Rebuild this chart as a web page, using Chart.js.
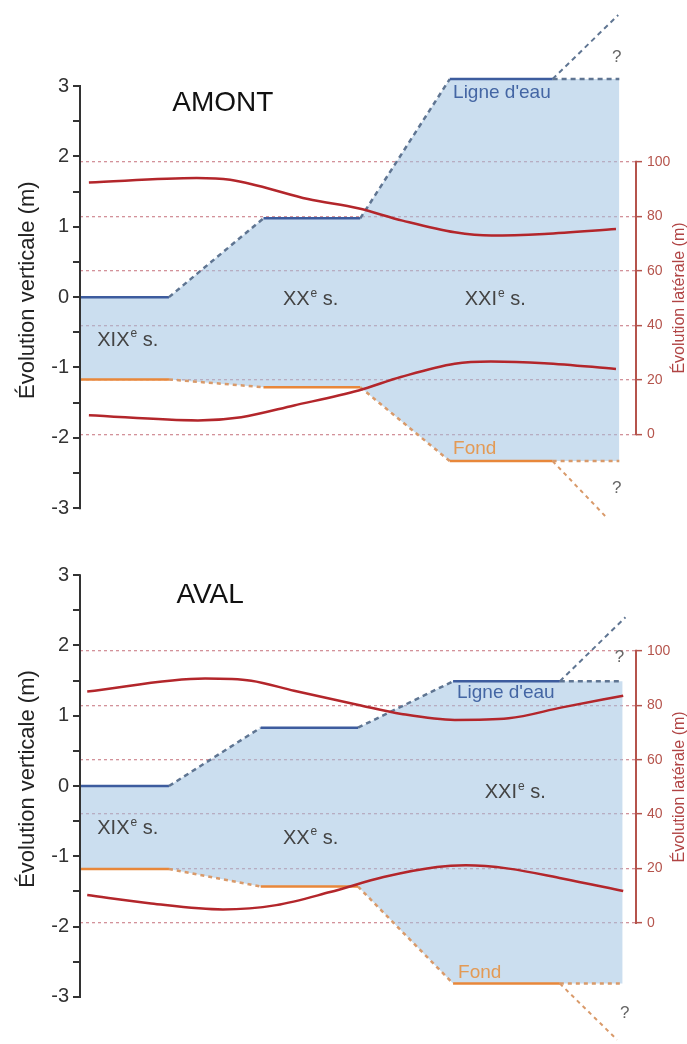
<!DOCTYPE html>
<html lang="fr">
<head>
<meta charset="utf-8">
<script src="https://cdn.jsdelivr.net/npm/chart.js@4.4.1/dist/chart.umd.min.js"></script>
<style>
  html, body { margin: 0; padding: 0; background: #fff; overflow: hidden; }
  body { position: relative; width: 687px; height: 1044px; }
  canvas { position: absolute; left: 0; }
  #amont { top: -12px; }
  #aval { top: 520px; }
</style>
</head>
<body>
<canvas id="amont" width="687" height="562"></canvas>
<canvas id="aval" width="687" height="544"></canvas>
<script>
// ticks
var leftTicks = [-3, -2.5, -2, -1.5, -1, -0.5, 0, 0.5, 1, 1.5, 2, 2.5, 3];
var rightTicks = [0, 20, 40, 60, 80, 100];

// AMONT - profil en long (x = position, schematique)
var amontX = [0, 16, 33, 50.4, 66.5, 85, 97];
var amontEau = [0, 0, 1.12, 1.12, 3.1, 3.1, 3.1];
var amontFond = [-1.17, -1.17, -1.28, -1.28, -2.33, -2.33, -2.33];
var amontEauSuiteX = [85, 96.8];
var amontEauSuiteY = [3.1, 4.01];
var amontFondSuiteX = [85, 94.8];
var amontFondSuiteY = [-2.33, -3.14];
// AMONT - evolution laterale (m)
var amontRiveHautX = [1.6, 21, 27, 32, 41, 50, 58, 67.4, 74, 83.5, 96.4];
var amontRiveHautY = [92.4, 94, 93.4, 91.2, 86.3, 82.9, 78.4, 74.1, 72.9, 73.5, 75.3];
var amontRiveBasX = [1.6, 21.2, 29, 38.5, 50.1, 57.7, 67.4, 73.9, 83.5, 96.4];
var amontRiveBasY = [7, 5.1, 6.3, 10.6, 16.1, 21, 25.9, 26.7, 26.1, 24];

// AVAL
var avalX = [0, 16, 32.5, 50, 67.1, 86.3, 97.6];
var avalEau = [0, 0, 0.83, 0.83, 1.49, 1.49, 1.49];
var avalFond = [-1.18, -1.18, -1.43, -1.43, -2.81, -2.81, -2.81];
var avalEauSuiteX = [86.3, 98.1];
var avalEauSuiteY = [1.49, 2.4];
var avalFondSuiteX = [86.3, 96.6];
var avalFondSuiteY = [-2.81, -3.61];
var avalRiveHautX = [1.3, 22.5, 30.8, 38.5, 50.1, 57.8, 67.4, 77.1, 86.7, 97.7];
var avalRiveHautY = [85, 89.8, 89, 85.3, 80.1, 76.8, 74.6, 75.2, 79.2, 83.5];
var avalRiveBasX = [1.3, 12.8, 25.7, 35.3, 45, 54.6, 64.2, 69.4, 77.1, 86.7, 97.7];
var avalRiveBasY = [10.3, 7.2, 5, 6.6, 11.4, 16.9, 20.6, 21.2, 20, 16.4, 11.8];

var FONT = '"Liberation Sans", Arial, sans-serif';
var BLUE = '#3d5c9e', BLUE_DASH = '#5f7592';
var ORANGE = '#e8873a', ORANGE_DASH = '#d99a6a';
var RED = '#b3262b', RED_AXIS = '#b5544c';
var FILL = 'rgba(160,194,226,0.55)';

function pts(xs, ys) {
  return xs.map(function (x, i) { return { x: x, y: ys[i] }; });
}

var decor = {
  id: 'decor',
  afterDraw: function (chart, args, o) {
    var ctx = chart.ctx, a = chart.chartArea;
    var sx = chart.scales.x, sy = chart.scales.y, sy2 = chart.scales.y2;
    ctx.save();
    // axe gauche
    ctx.strokeStyle = '#333';
    ctx.lineWidth = 2;
    ctx.beginPath();
    ctx.moveTo(a.left, sy.getPixelForValue(3) - 1);
    ctx.lineTo(a.left, sy.getPixelForValue(-3) + 1);
    ctx.stroke();
    // axe droit
    ctx.strokeStyle = RED_AXIS;
    ctx.beginPath();
    ctx.moveTo(a.right, sy2.getPixelForValue(100) - 1);
    ctx.lineTo(a.right, sy2.getPixelForValue(0) + 1);
    ctx.stroke();

    // titres d'axes
    ctx.textAlign = 'center';
    ctx.textBaseline = 'middle';
    ctx.fillStyle = '#222';
    ctx.font = '22px ' + FONT;
    ctx.save();
    ctx.translate(28, sy.getPixelForValue(0) - 7);
    ctx.rotate(-Math.PI / 2);
    ctx.fillText('Évolution verticale (m)', 0, 0);
    ctx.restore();
    ctx.fillStyle = '#b04444';
    ctx.font = '16px ' + FONT;
    ctx.save();
    ctx.translate(680, sy2.getPixelForValue(50));
    ctx.rotate(-Math.PI / 2);
    ctx.fillText('Évolution latérale (m)', 0, 0);
    ctx.restore();

    // textes
    o.labels.forEach(function (l) {
      var px = sx.getPixelForValue(l.x), py = sy.getPixelForValue(l.y);
      ctx.fillStyle = l.color;
      ctx.textBaseline = 'middle';
      ctx.textAlign = l.align || 'left';
      ctx.font = l.size + 'px ' + FONT;
      if (l.sup) {
        ctx.textAlign = 'left';
        ctx.fillText(l.text, px, py);
        var w = ctx.measureText(l.text).width;
        ctx.font = Math.round(l.size * 0.6) + 'px ' + FONT;
        ctx.fillText(l.sup, px + w + 1, py - l.size * 0.3);
        var w2 = ctx.measureText(l.sup).width;
        ctx.font = l.size + 'px ' + FONT;
        ctx.fillText(l.tail, px + w + w2 + 1, py);
      } else {
        ctx.fillText(l.text, px, py);
      }
    });
    ctx.restore();
  }
};

function dashed(ctx) { return ctx.p0DataIndex % 2 === 1; }

function makeChart(id, d) {
  var lo = -1.95, hi = 1.925;
  var y2min = (d.ymin - lo) / (hi - lo) * 100;
  var y2max = (d.ymax - lo) / (hi - lo) * 100;
  return new Chart(document.getElementById(id).getContext('2d'), {
    type: 'line',
    data: {
      datasets: [
        { data: pts(d.riveHautX, d.riveHautY), yAxisID: 'y2', borderColor: RED, borderWidth: 2.5,
          cubicInterpolationMode: 'monotone', pointRadius: 0, fill: false },
        { data: pts(d.riveBasX, d.riveBasY), yAxisID: 'y2', borderColor: RED, borderWidth: 2.5,
          cubicInterpolationMode: 'monotone', pointRadius: 0, fill: false },
        { data: pts(d.x, d.eau), yAxisID: 'y', borderWidth: 2.5, pointRadius: 0, fill: false,
          segment: {
            borderColor: function (c) { return dashed(c) ? BLUE_DASH : BLUE; },
            borderDash: function (c) { return dashed(c) ? [5, 4] : undefined; }
          } },
        { data: pts(d.x, d.fond), yAxisID: 'y', borderWidth: 2.5, pointRadius: 0, fill: false,
          segment: {
            borderColor: function (c) { return dashed(c) ? ORANGE_DASH : ORANGE; },
            borderDash: function (c) { return dashed(c) ? [4, 4] : undefined; }
          } },
        { data: pts(d.eauSuiteX, d.eauSuiteY), yAxisID: 'y', borderColor: BLUE_DASH, borderWidth: 2,
          borderDash: [5, 4], pointRadius: 0, fill: false },
        { data: pts(d.fondSuiteX, d.fondSuiteY), yAxisID: 'y', borderColor: ORANGE_DASH, borderWidth: 2,
          borderDash: [4, 4], pointRadius: 0, fill: false },
        // zone en eau (remplissage entre ligne d'eau et fond)
        { data: pts(d.x, d.eau), yAxisID: 'y', borderWidth: 0, borderColor: 'rgba(0,0,0,0)',
          pointRadius: 0, backgroundColor: FILL, fill: '+1' },
        { data: pts(d.x, d.fond), yAxisID: 'y', borderWidth: 0, borderColor: 'rgba(0,0,0,0)',
          pointRadius: 0, fill: false }
      ]
    },
    options: {
      responsive: false,
      animation: false,
      devicePixelRatio: 1,
      layout: { padding: { top: 20, bottom: 20, left: 0, right: 0 } },
      plugins: {
        legend: { display: false },
        tooltip: { enabled: false },
        filler: { drawTime: 'beforeDatasetsDraw' },
        decor: { labels: d.labels }
      },
      scales: {
        x: { type: 'linear', min: 0, max: 100, display: false },
        y: {
          position: 'left', min: d.ymin, max: d.ymax,
          afterBuildTicks: function (s) { s.ticks = leftTicks.map(function (v) { return { value: v }; }); },
          afterFit: function (s) { s.width = 80; },
          ticks: {
            autoSkip: false, padding: 4, color: '#333',
            font: { family: FONT, size: 20 },
            callback: function (v) { return Number.isInteger(v) ? String(v) : ''; }
          },
          grid: { drawOnChartArea: false, drawTicks: true, tickLength: 7, color: '#333', lineWidth: 2 },
          border: { display: false }
        },
        y2: {
          position: 'right', min: y2min, max: y2max,
          afterBuildTicks: function (s) { s.ticks = rightTicks.map(function (v) { return { value: v }; }); },
          afterFit: function (s) { s.width = 51; },
          ticks: { autoSkip: false, padding: 5, color: RED_AXIS, font: { family: FONT, size: 14 } },
          grid: {
            drawOnChartArea: true, drawTicks: true, tickLength: 6,
            color: 'rgba(196,110,120,0.75)', lineWidth: 1.3,
            tickColor: RED_AXIS, tickWidth: 1.5, tickBorderDash: []
          },
          border: { display: false, dash: [3, 3] }
        }
      }
    },
    plugins: [decor]
  });
}

makeChart('amont', {
  ymin: -3.31, ymax: 4.11,
  x: amontX, eau: amontEau, fond: amontFond,
  eauSuiteX: amontEauSuiteX, eauSuiteY: amontEauSuiteY,
  fondSuiteX: amontFondSuiteX, fondSuiteY: amontFondSuiteY,
  riveHautX: amontRiveHautX, riveHautY: amontRiveHautY,
  riveBasX: amontRiveBasX, riveBasY: amontRiveBasY,
  labels: [
    { text: 'AMONT', x: 25.7, y: 2.76, size: 28, color: '#111', align: 'center' },
    { text: 'XIX', sup: 'e', tail: ' s.', x: 3.1, y: -0.61, size: 20, color: '#444' },
    { text: 'XX', sup: 'e', tail: ' s.', x: 36.5, y: -0.04, size: 20, color: '#444' },
    { text: 'XXI', sup: 'e', tail: ' s.', x: 69.2, y: -0.04, size: 20, color: '#444' },
    { text: "Ligne d'eau", x: 67.1, y: 2.91, size: 19, color: '#4466a4' },
    { text: 'Fond', x: 67.1, y: -2.16, size: 19, color: '#e39a55' },
    { text: '?', x: 95.7, y: 3.41, size: 17, color: '#666' },
    { text: '?', x: 95.7, y: -2.72, size: 17, color: '#666' }
  ]
});

makeChart('aval', {
  ymin: -3.67, ymax: 3.5,
  x: avalX, eau: avalEau, fond: avalFond,
  eauSuiteX: avalEauSuiteX, eauSuiteY: avalEauSuiteY,
  fondSuiteX: avalFondSuiteX, fondSuiteY: avalFondSuiteY,
  riveHautX: avalRiveHautX, riveHautY: avalRiveHautY,
  riveBasX: avalRiveBasX, riveBasY: avalRiveBasY,
  labels: [
    { text: 'AVAL', x: 23.4, y: 2.72, size: 28, color: '#111', align: 'center' },
    { text: 'XIX', sup: 'e', tail: ' s.', x: 3.1, y: -0.6, size: 20, color: '#444' },
    { text: 'XX', sup: 'e', tail: ' s.', x: 36.5, y: -0.74, size: 20, color: '#444' },
    { text: 'XXI', sup: 'e', tail: ' s.', x: 72.8, y: -0.09, size: 20, color: '#444' },
    { text: "Ligne d'eau", x: 67.8, y: 1.32, size: 19, color: '#4466a4' },
    { text: 'Fond', x: 68, y: -2.65, size: 19, color: '#e39a55' },
    { text: '?', x: 96.2, y: 1.83, size: 17, color: '#666' },
    { text: '?', x: 97.1, y: -3.23, size: 17, color: '#666' }
  ]
});
</script>
</body>
</html>
